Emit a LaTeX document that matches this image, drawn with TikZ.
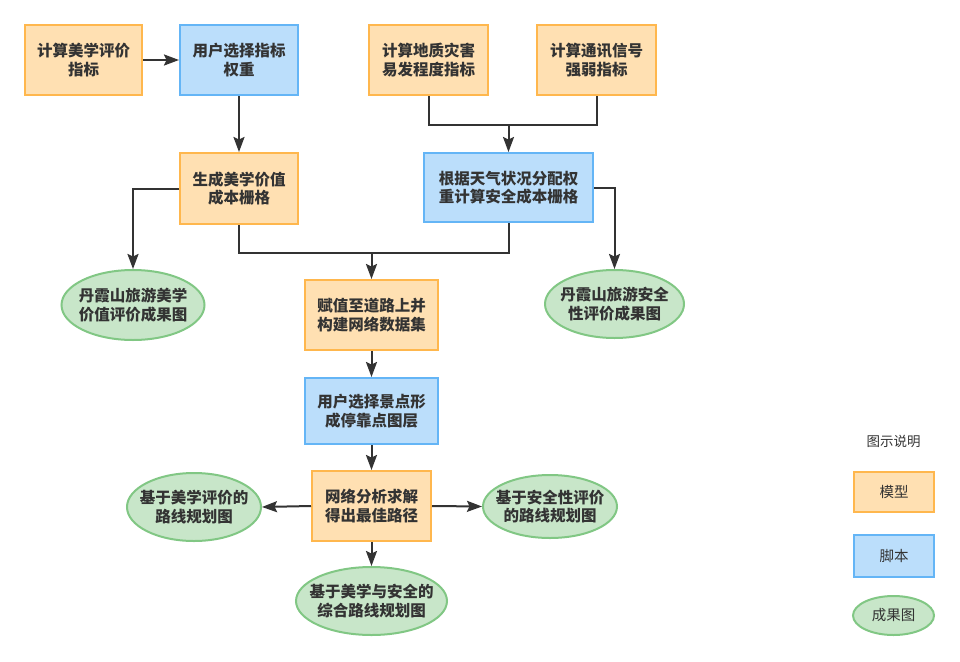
\documentclass[tikz,border=0pt]{standalone}
\usepackage{fontspec}
\setmainfont{Noto Sans CJK SC}
\usetikzlibrary{arrows.meta,shapes.geometric}
\definecolor{ofill}{HTML}{FFE0B2}
\definecolor{odraw}{HTML}{FFB74D}
\definecolor{bfill}{HTML}{BBDEFB}
\definecolor{bdraw}{HTML}{64B5F6}
\definecolor{gfill}{HTML}{C8E6C9}
\definecolor{gdraw}{HTML}{81C784}
\definecolor{txt}{HTML}{333333}
\definecolor{lnc}{HTML}{333333}
\tikzset{
  base/.style={align=center, inner sep=0pt, text=txt, font=\fontsize{15.5}{18.5}\selectfont\bfseries, line width=2pt},
  model/.style={base, draw=odraw, fill=ofill, rectangle},
  script/.style={base, draw=bdraw, fill=bfill, rectangle},
  result/.style={base, draw=gdraw, fill=gfill, ellipse},
  rtext/.style={align=center, inner sep=0pt, text=txt, font=\fontsize{15.5}{18.5}\selectfont\bfseries},
  ln/.style={draw=lnc, line width=2pt},
  arr/.style={ln, -{Stealth[length=15pt,width=11pt,inset=2.5pt]}},
}
\begin{document}
\begin{tikzpicture}[x=1pt,y=-1pt]
\useasboundingbox (0,0) rectangle (960,661);
\node[model, minimum width=117, minimum height=70] (A) at (83.5,60) {计算美学评价\\指标};
\node[script, minimum width=118, minimum height=70] (B) at (239,60) {用户选择指标\\权重};
\node[model, minimum width=119, minimum height=70] (C) at (428.5,60) {计算地质灾害\\易发程度指标};
\node[model, minimum width=119, minimum height=70] (D) at (596.5,60) {计算通讯信号\\强弱指标};
\node[model, minimum width=118, minimum height=71] (E) at (239,188.5) {生成美学价值\\成本栅格};
\node[script, minimum width=169, minimum height=69] (F) at (508.5,187.5) {根据天气状况分配权\\重计算安全成本栅格};
\node[result, minimum width=143, minimum height=70] (G) at (133,305) {};
\node[rtext] (Gt) at (G) {丹霞山旅游美学\\价值评价成果图};
\node[result, minimum width=139, minimum height=68] (H) at (614.5,304) {};
\node[rtext] (Ht) at (H) {丹霞山旅游安全\\性评价成果图};
\node[model, minimum width=133, minimum height=70] (I) at (371.5,315) {赋值至道路上并\\构建网络数据集};
\node[script, minimum width=133, minimum height=66] (J) at (371.5,411) {用户选择景点形\\成停靠点图层};
\node[model, minimum width=119, minimum height=70] (K) at (371.5,506) {网络分析求解\\得出最佳路径};
\node[result, minimum width=134, minimum height=68] (L) at (194,507) {};
\node[rtext] (Lt) at (L) {基于美学评价的\\路线规划图};
\node[result, minimum width=134, minimum height=63] (M) at (550,506.5) {};
\node[rtext] (Mt) at (M) {基于安全性评价\\的路线规划图};
\node[result, minimum width=151, minimum height=68] (N) at (371.5,601) {};
\node[rtext] (Nt) at (N) {基于美学与安全的\\综合路线规划图};
% legend
\node[text=txt, font=\fontsize{13.5}{15}\selectfont, inner sep=0pt] (LT) at (893.5,441) {图示说明};
\node[model, font=\fontsize{14.5}{16}\selectfont, minimum width=80, minimum height=40] (L1) at (894,492) {模型};
\node[script, font=\fontsize{14.5}{16}\selectfont, minimum width=80, minimum height=42] (L2) at (894,556) {脚本};
\node[result, minimum width=81, minimum height=39] (L3) at (893.5,615.5) {};
\node[text=txt, font=\fontsize{14.5}{16}\selectfont, inner sep=0pt] (L3t) at (L3) {成果图};
% connectors
\draw[arr] (A) -- (B);
\draw[arr] (B) -- (E);
\coordinate (cd) at (508.5,124);
\draw[ln] (C.south) -- ++(0,29) -| (D.south);
\draw[arr] (cd) -- (F.north);
\draw[arr] (E.west) -| (G.north);
\draw[arr] (F.east) -| (H.north);
\coordinate (ef) at (371.5,252);
\draw[ln] (E.south) -- ++(0,28) -| (F.south);
\draw[arr] (ef) -- (I.north);
\draw[arr] (I) -- (J);
\draw[arr] (J) -- (K);
\draw[arr] (K.west) -- (L.east);
\draw[arr] (K.east) -- (M.west);
\draw[arr] (K) -- (N);
\end{tikzpicture}
\end{document}
